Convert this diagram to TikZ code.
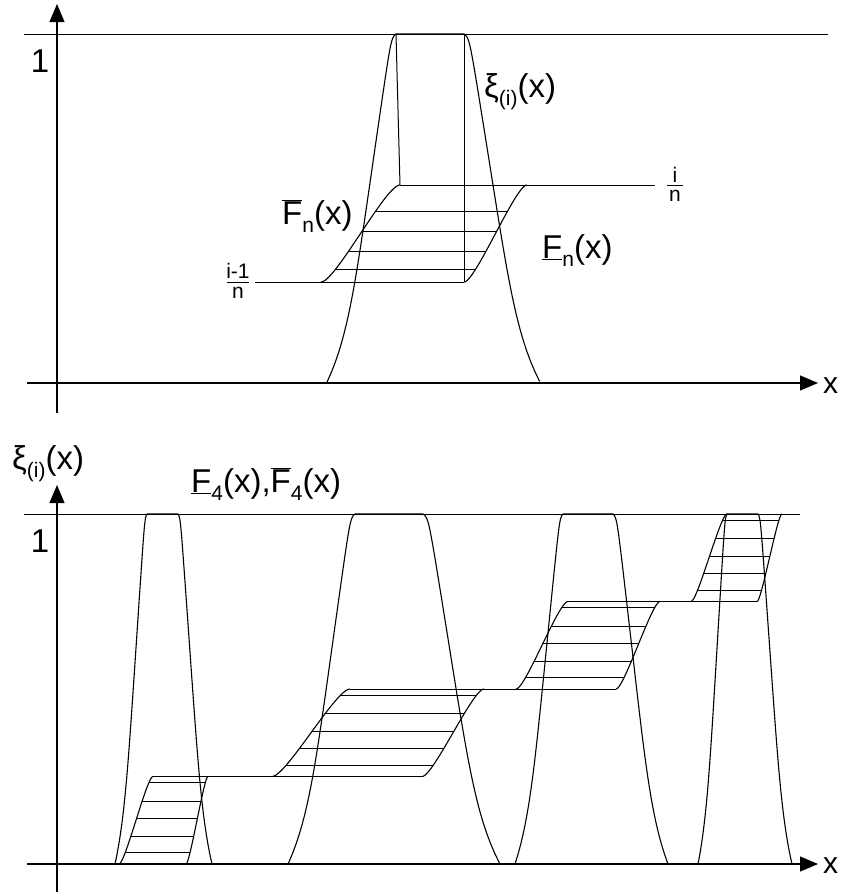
\documentclass[tikz,border=0pt]{standalone}
\usepackage{fontspec}
\setmainfont{Liberation Sans}
\usetikzlibrary{arrows.meta}
\newcommand\sbs[1]{\raisebox{-0.25em}{\fontsize{21}{21}\selectfont #1}}
\newcommand\Fb{\ensuremath{\overline{\mbox{F}}}}
\newcommand\Fu{\underline{F}}
% bell: T B xl xr Ol Or
\newcommand\bellc[6]{%
  \draw[curve] plot[domain=1:0,samples=70,variable=\t] ({#3-#5*bf(\t*\t)},{#1+(#2-#1)*\t*\t})
    -- plot[domain=0:1,samples=70,variable=\t] ({#4+#6*bf(\t*\t)},{#1+(#2-#1)*\t*\t});}
% sigmoid: x0 x1 B T
\newcommand\sigc[4]{%
  \draw[curve] plot[domain=0:1,samples=60,variable=\t] ({#1+(#2-#1)*(0.25*(1-cos(180*\t))+0.5*\t)},{#3-(#3-#4)*0.5*(1-cos(180*\t))});}
% hatch: xa0 xa1 xb0 xb1 B T list
\newcommand\hatchset[7]{%
  \foreach \s in {#7} {\draw[hline] ({#1+(#2-#1)*gg(\s)},{#5-(#5-#6)*\s}) -- ({#3+(#4-#3)*gg(\s)},{#5-(#5-#6)*\s});}}
\begin{document}
\begin{tikzpicture}[x=1pt,y=-1pt,
  declare function={gg(\s)=0.5*\s+0.5*(asin(2*\s-1)/180+0.5);
    bf(\u)=(52*\u+15*(\u*\u*\u*\u)*(\u*\u*\u*\u)+5*\u/(\u+0.01))/72;},
  curve/.style={line width=1.1pt,line join=round},
  hline/.style={line width=0.9pt},
  plain/.style={line width=1pt},
  axis/.style={line width=1.1pt,-{Triangle[length=18pt,width=15pt]}},
  lbl/.style={inner sep=0pt,font=\fontsize{33}{38}\selectfont},
  num/.style={inner sep=0pt,font=\fontsize{33}{38}\selectfont},
  axl/.style={inner sep=0pt,font=\fontsize{30}{34}\selectfont},
  frac/.style={inner sep=0pt,font=\fontsize{21}{24}\selectfont}]
\useasboundingbox (0,0) rectangle (841,892);

% ---------- top panel ----------
\coordinate (ya0) at (57,413);
\coordinate (ya1) at (57,4);
\coordinate (xa0) at (27,383);
\coordinate (xa1) at (818,383);
\draw[axis] (ya0) -- (ya1);
\draw[axis] (xa0) -- (xa1);
\draw[plain] (24,34) -- (828,34);
\node[num,anchor=base] (one1) at (40,72) {1};
\node[axl,anchor=base west] (x1) at (823,393) {x};

\bellc{34}{382}{396}{464}{69}{76}
\draw[plain] (396,34) -- (400,185);
\draw[plain] (464,34) -- (464,282);
\draw[plain] (255,282) -- (464,282);
\draw[plain] (400,185) -- (655,185);
\sigc{321}{400}{282}{185}
\sigc{464}{527}{282}{185}
\hatchset{321}{400}{464}{527}{282}{185}{0.128,0.32,0.517,0.724}

\node[lbl,anchor=base west] (xi1) at (484,97) {ξ\sbs{(i)}(x)};
\node[lbl,anchor=base west] (Fb1) at (282,224) {\Fb\sbs{n}(x)};
\node[lbl,anchor=base west] (Fu1) at (542,258) {\Fu\sbs{n}(x)};
% fraction i/n
\node[frac,anchor=base] (fin) at (675,182) {i};
\node[frac,anchor=base] (fid) at (675,201) {n};
\draw[line width=0.9pt] (667,185.5) -- (683,185.5);
% fraction (i-1)/n
\node[frac,anchor=base] (fmn) at (238,278) {i-1};
\node[frac,anchor=base] (fmd) at (238,298) {n};
\draw[line width=0.9pt] (227,282) -- (249,282);

% ---------- bottom panel ----------
\coordinate (yb0) at (57,892);
\coordinate (yb1) at (57,485);
\coordinate (xb0) at (27,864);
\coordinate (xb1) at (818,864);
\draw[axis] (yb0) -- (yb1);
\draw[axis] (xb0) -- (xb1);
\draw[plain] (24,514) -- (800,514);
\node[num,anchor=base] (one2) at (40,552) {1};
\node[axl,anchor=base west] (x2) at (823,873) {x};
\node[lbl,anchor=base west] (xi2) at (12,469) {ξ\sbs{(i)}(x)};
\node[lbl,anchor=base west] (F4) at (191,492) {\Fu\sbs{4}(x),\Fb\sbs{4}(x)};

\bellc{514}{864}{147}{178}{32}{34}
\bellc{514}{864}{355}{423}{67}{77}
\bellc{514}{864}{563}{613}{48}{55}
\bellc{514}{864}{727}{758}{29}{34}

\draw[plain] (153,776.5) -- (422,776.5);
\draw[plain] (350,689) -- (616,689);
\draw[plain] (568,601.5) -- (757,601.5);

\sigc{119}{153}{864}{776.5}
\sigc{186}{208}{864}{776.5}
\hatchset{119}{153}{186}{208}{864}{776.5}{0.128,0.32,0.52,0.72,0.93}
\sigc{272}{350}{776.5}{689}
\sigc{422}{484}{776.5}{689}
\hatchset{272}{350}{422}{484}{776.5}{689}{0.128,0.32,0.52,0.72,0.93}
\sigc{516}{568}{689}{601.5}
\sigc{616}{660}{689}{601.5}
\hatchset{516}{568}{616}{660}{689}{601.5}{0.128,0.32,0.52,0.72,0.93}
\sigc{691}{727}{601.5}{514}
\sigc{757}{782}{601.5}{514}
\hatchset{691}{727}{757}{782}{601.5}{514}{0.128,0.32,0.52,0.72,0.93}
\end{tikzpicture}
\end{document}
